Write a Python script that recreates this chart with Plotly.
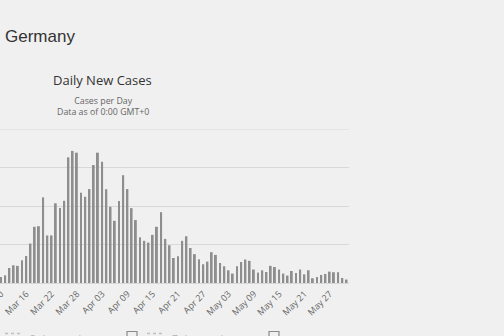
import pandas as pd
import plotly.graph_objects as go

# Daily new cases, Germany, 10 Mar – 31 May 2020
dates = pd.date_range("2020-03-10", "2020-05-31", freq="D")
categories = [d.strftime("%b %d") for d in dates]
daily_cases = [
    310, 400, 780, 920, 890, 1180, 1400, 2050, 2920, 2950,
    4450, 2470, 2470, 4140, 3900, 4270, 6530, 6860, 6770, 4690,
    4480, 4880, 6130, 6770, 6300, 4870, 3960, 3230, 4260, 5600,
    4880, 3890, 3270, 2370, 2190, 2100, 2500, 2920, 3680, 2290,
    1960, 1300, 1390, 2190, 2430, 1820, 1500, 1230, 975, 1110,
    1600, 1460, 1040, 870, 660, 490, 870, 1090, 1220, 1150,
    700, 540, 660, 570, 890, 830, 700, 490, 385, 625,
    520, 700, 450, 660, 245, 310, 420, 470, 590, 560,
    560, 260, 180,
]
tick_labels = categories[::6]
legend_labels = ["3-day moving average", "7-day moving average"]

W, H = 504, 336
L, R, T, B = 0, 155, 129, 53
PW, PH = W - L - R, H - T - B


def px(x):
    return (x - L) / PW


def py(y):
    return (H - B - y) / PH


fig = go.Figure(
    go.Bar(
        x=categories,
        y=daily_cases,
        marker=dict(color="#8e8e8e", line=dict(width=0)),
        hoverinfo="x+y",
    )
)

annotations = [
    dict(text="Germany", x=px(3), y=py(36), xanchor="left", yanchor="middle",
         font=dict(family="Liberation Sans, Arial", size=17, color="#333333")),
    dict(text="Daily New Cases", x=px(102.5), y=py(80), xanchor="center", yanchor="middle",
         font=dict(family="Open Sans", size=13, color="#333333")),
    dict(text="Cases per Day<br>Data as of 0:00 GMT+0", x=px(102.5), y=py(106.5),
         xanchor="center", yanchor="middle", align="center",
         font=dict(family="Open Sans", size=8.8, color="#666666")),
]
shapes = [
    # top grid line sits on the plot edge
    dict(type="line", xref="paper", yref="y", x0=0, x1=1, y0=8000, y1=8000,
         line=dict(color="#d8d8d8", width=1), layer="below"),
]
# legend row along the bottom edge
for i, lab in enumerate(legend_labels):
    off = i * 142
    annotations.append(dict(text=lab, x=px(28 + off), y=py(330), xanchor="left", yanchor="top",
                            font=dict(family="Open Sans", size=10, color="#b0b0b0")))
    shapes.append(dict(type="line", xref="paper", yref="paper",
                       x0=px(5 + off), x1=px(21 + off), y0=py(333.5), y1=py(333.5),
                       line=dict(color="#c0c0c0", width=1.5, dash="dot")))
    shapes.append(dict(type="rect", xref="paper", yref="paper",
                       x0=px(127 + off), x1=px(137 + off), y0=py(342), y1=py(331.5),
                       line=dict(color="#8a8a8a", width=1.2), fillcolor="rgba(0,0,0,0)"))

for a in annotations:
    a.update(xref="paper", yref="paper", showarrow=False)

fig.update_layout(
    width=W, height=H,
    margin=dict(l=L, r=R, t=T, b=B, pad=0, autoexpand=False),
    paper_bgcolor="#f0f0f0", plot_bgcolor="#f0f0f0",
    bargap=0.55,
    showlegend=False,
    annotations=annotations,
    shapes=shapes,
    xaxis=dict(
        type="category",
        range=[-0.237, 82.58],
        tickmode="array", tickvals=tick_labels, ticktext=tick_labels,
        tickangle=-45, automargin=False, ticklabelstandoff=3,
        tickfont=dict(family="Open Sans", size=9, color="#666666"),
        showgrid=False, showline=False, zeroline=False, ticks="",
    ),
    yaxis=dict(
        range=[0, 8000], dtick=2000, automargin=False,
        showticklabels=False,
        gridcolor="#d8d8d8", gridwidth=1,
        zeroline=True, zerolinecolor="#d8d8d8", zerolinewidth=1,
    ),
)

fig.write_html("out.html")
